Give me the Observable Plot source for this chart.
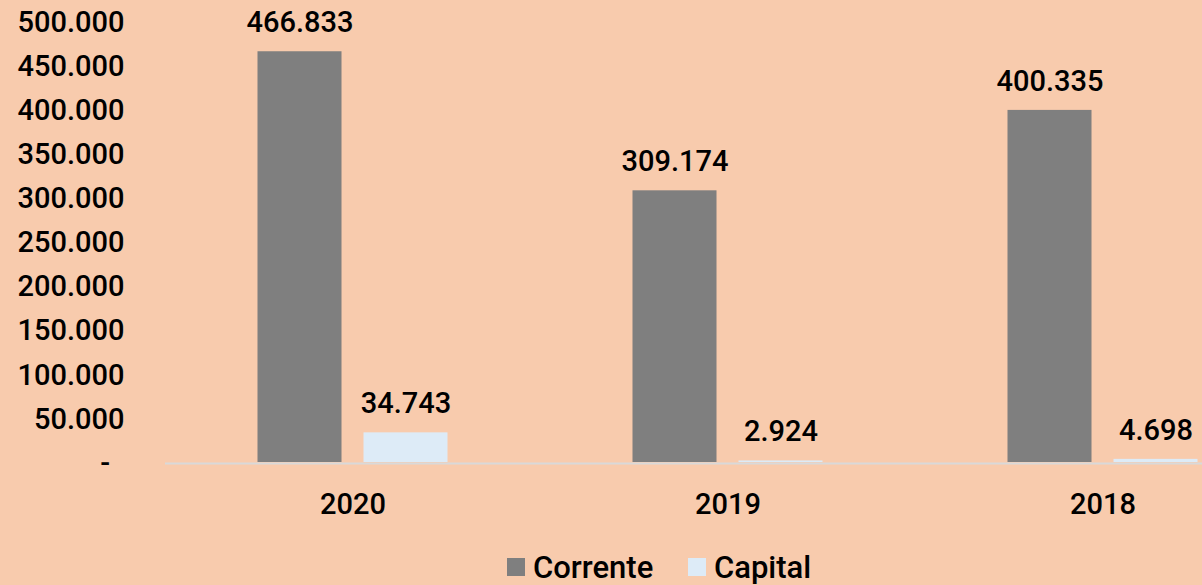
<!DOCTYPE html>
<html>
<head>
<meta charset="utf-8">
<script src="https://cdn.jsdelivr.net/npm/d3@7"></script>
<script src="https://cdn.jsdelivr.net/npm/@observablehq/plot@0.6"></script>
<style>
  html, body { margin: 0; padding: 0; background: #F8CBAD; }
  #wrap { position: relative; width: 1202px; height: 585px; overflow: hidden; background: #F8CBAD; font-family: Roboto, "Noto Sans", sans-serif; }
  #chart { position: absolute; left: 0; top: 0; width: 1290px; }
  #chart svg { max-width: none !important; }
  #legend { position: absolute; top: 548px; left: 0; width: 1202px; height: 38px; font-size: 31px; font-weight: 500; color: #000; }
  .item { position: absolute; top: 0; height: 38px; display: flex; align-items: center; }
  .sw { display: inline-block; width: 18px; height: 18px; margin-right: 8px; }
</style>
</head>
<body>
<div id="wrap">
  <div id="chart"></div>
  <div id="legend"></div>
</div>
<script>
const years = ["2020", "2019", "2018"];
const seriesNames = ["Corrente", "Capital"];
const corrente = [466833, 309174, 400335];
const capital = [34743, 2924, 4698];
const yTicks = [0, 50000, 100000, 150000, 200000, 250000, 300000, 350000, 400000, 450000, 500000];
const colors = ["#7F7F7F", "#DDEBF7"];

const data = [];
years.forEach((y, i) => {
  data.push({year: y, series: "Corrente", value: corrente[i]});
  data.push({year: y, series: "Capital", value: capital[i]});
});

const fmt = d => d === 0 ? "-\u00a0\u00a0" : d3.format(",")(d).replace(/,/g, ".");

const chart = Plot.plot({
  width: 1290,
  height: 530,
  marginLeft: 164.5,
  marginRight: 0,
  marginTop: 22,
  marginBottom: 67,
  style: {background: "transparent", fontFamily: "Roboto, 'Noto Sans', sans-serif", fontSize: "29px", fontWeight: 500, color: "#000", overflow: "visible", maxWidth: "none"},
  fx: {domain: years, padding: 0, axis: "bottom", tickSize: 0, tickPadding: 30, label: null},
  x: {domain: seriesNames, paddingInner: 0.2075, paddingOuter: 0.8726, axis: null},
  y: {domain: [0, 500000], ticks: yTicks, tickFormat: fmt, tickSize: 0, tickPadding: 41, label: null},
  color: {domain: seriesNames, range: colors},
  marks: [
    Plot.ruleY([0], {stroke: "#D9D9D9", strokeWidth: 2}),
    Plot.barY(data, {fx: "year", x: "series", y: "value", fill: "series", insetBottom: 1}),
    Plot.text(data, {fx: "year", x: "series", y: "value", text: d => fmt(d.value), dy: -29, fontSize: 29, fontWeight: 500, fill: "#000", lineAnchor: "middle"})
  ]
});
chart.style.maxWidth = "none";
document.getElementById("chart").appendChild(chart);

const legend = document.getElementById("legend");
const legendLeft = [507, 688];
seriesNames.forEach((s, i) => {
  const item = document.createElement("div");
  item.className = "item";
  item.style.left = legendLeft[i] + "px";
  const sw = document.createElement("span");
  sw.className = "sw";
  sw.style.background = colors[i];
  const t = document.createElement("span");
  t.textContent = s;
  item.appendChild(sw);
  item.appendChild(t);
  legend.appendChild(item);
});
</script>
</body>
</html>
